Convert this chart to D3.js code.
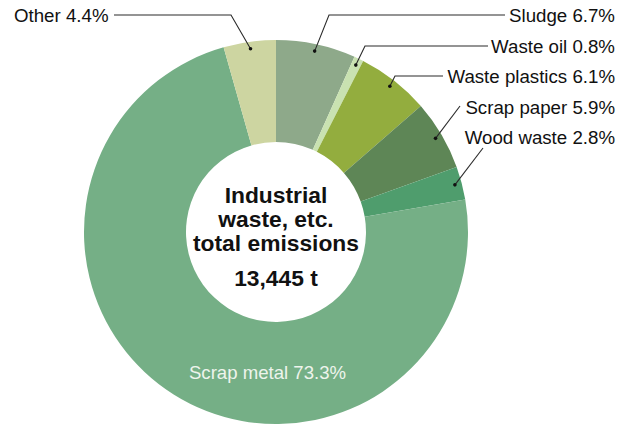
<!DOCTYPE html>
<html>
<head>
<meta charset="utf-8">
<script src="https://cdn.jsdelivr.net/npm/d3@7/dist/d3.min.js"></script>
<style>
  html, body { margin: 0; padding: 0; background: #fff; }
  svg { display: block; font-family: "Liberation Sans", Arial, Helvetica, sans-serif; }
</style>
</head>
<body>
<svg id="chart" width="622" height="425"></svg>
<script>
// Breakdown of industrial waste emissions (share of total, %)
const categories = ["Sludge", "Waste oil", "Waste plastics", "Scrap paper", "Wood waste", "Scrap metal", "Other"];
const shares = [6.7, 0.8, 6.1, 5.9, 2.8, 73.3, 4.4];
const colors = ["#8ea98a", "#c9e2b1", "#93ad3e", "#5e8656", "#4f9d6d", "#75af86", "#cdd5a1"];
const centerLines = ["Industrial", "waste, etc.", "total emissions"];
const totalLabel = "13,445 t";

const svg = d3.select("#chart");
const cx = 276, cy = 232;
const outerR = 192, innerR = 90, dotR = 185;

const data = categories.map((name, i) => ({ name, value: shares[i], color: colors[i] }));

const pie = d3.pie().value(d => d.value).sort(null).startAngle(0).endAngle(2 * Math.PI);
const arcs = pie(data);
const arc = d3.arc().innerRadius(innerR).outerRadius(outerR);
const dotArc = d3.arc().innerRadius(dotR).outerRadius(dotR);

const g = svg.append("g").attr("transform", `translate(${cx},${cy})`);

g.selectAll("path.slice")
  .data(arcs)
  .join("path")
  .attr("class", "slice")
  .attr("d", arc)
  .attr("fill", d => d.data.color);

// Outer labels with leader lines running from a dot on the slice to the label
const fmt = d => `${d.name} ${d.value.toFixed(1)}%`;
const labelRight = 615;
const placement = {
  "Sludge":         { y: 15,  elbow: [329, 15], end: 505, side: "right" },
  "Waste oil":      { y: 46,  elbow: [365, 46], end: 488, side: "right" },
  "Waste plastics": { y: 76,  elbow: [395, 76], end: 443, side: "right" },
  "Scrap paper":    { y: 107, elbow: null,      end: [460, 106], side: "right" },
  "Wood waste":     { y: 137, elbow: null,      end: [483, 148], side: "right" },
  "Other":          { y: 15,  elbow: [231, 15], end: 114, side: "left" }
};

const labels = svg.append("g");
arcs.forEach(a => {
  const p = placement[a.data.name];
  if (!p) return;
  const [dx, dy] = dotArc.centroid(a);
  const dot = [cx + dx, cy + dy];
  const pts = p.elbow ? [dot, p.elbow, [p.end, p.elbow[1]]] : [dot, p.end];
  labels.append("path")
    .attr("d", d3.line()(pts))
    .attr("fill", "none")
    .attr("stroke", "#2a2a2a")
    .attr("stroke-width", 1.1);
  labels.append("circle")
    .attr("cx", dot[0]).attr("cy", dot[1]).attr("r", 1.8)
    .attr("fill", "#111");
  const t = labels.append("text")
    .attr("y", p.y)
    .attr("dy", "0.36em")
    .attr("font-size", 18.7)
    .attr("fill", "#111")
    .text(fmt(a.data));
  if (p.side === "right") {
    t.attr("x", labelRight).attr("text-anchor", "end");
  } else {
    t.attr("x", 14).attr("text-anchor", "start");
  }
});

// Large slice label inside the ring
const metal = arcs.find(a => a.data.name === "Scrap metal");
svg.append("text")
  .attr("x", cx - 8.5)
  .attr("y", cy + 140)
  .attr("dy", "0.36em")
  .attr("text-anchor", "middle")
  .attr("font-size", 18.6)
  .attr("fill", "#eef4ec")
  .text(fmt(metal.data));

// Center title and total
const center = svg.append("g").attr("text-anchor", "middle").attr("font-weight", "bold").attr("fill", "#111");
centerLines.forEach((line, i) => {
  center.append("text")
    .attr("x", cx)
    .attr("y", 195 + i * 24)
    .attr("dy", "0.36em")
    .attr("font-size", 22.8)
    .text(line);
});
center.append("text")
  .attr("x", cx)
  .attr("y", 278)
  .attr("dy", "0.36em")
  .attr("font-size", 22.8)
  .text(totalLabel);
</script>
</body>
</html>
